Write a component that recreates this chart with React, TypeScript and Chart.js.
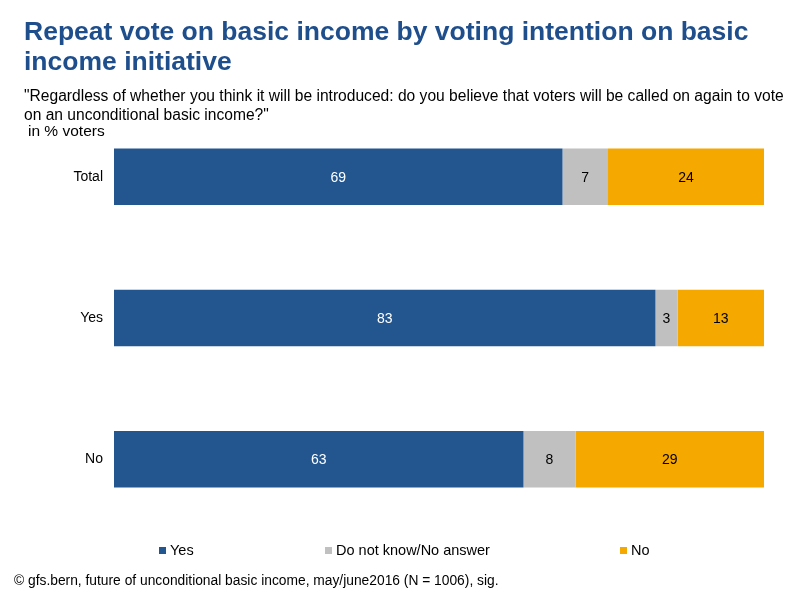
import { useEffect, useRef } from 'react';
import { Chart, registerables } from 'chart.js';

Chart.register(...registerables);

const categories = ['Total', 'Yes', 'No'];
// shares as drawn (segments fill the bar); labels show rounded values
const yesValues = [69, 83.3, 63];
const dontKnowValues = [7, 3.4, 8];
const noValues = [24, 13.3, 29];

const seriesNames = ['Yes', 'Do not know/No answer', 'No'];
const seriesColors = ['#23568F', '#C0C0C0', '#F5A800'];
const labelColors = ['#FFFFFF', '#000000', '#000000'];

const FONT = '"Liberation Sans", Arial, sans-serif';

// writes the value in the middle of every segment
const segmentLabels = {
  id: 'segmentLabels',
  afterDatasetsDraw(chart: Chart) {
    const { ctx } = chart;
    ctx.save();
    ctx.font = `14px ${FONT}`;
    ctx.textAlign = 'center';
    ctx.textBaseline = 'middle';
    chart.data.datasets.forEach((ds, i) => {
      const meta = chart.getDatasetMeta(i);
      meta.data.forEach((el, j) => {
        const { x, y, base } = el.getProps(['x', 'y', 'base'], true) as any;
        ctx.fillStyle = labelColors[i];
        ctx.fillText(String(Math.round(ds.data[j] as number)), (x + base) / 2, y + 1);
      });
    });
    ctx.restore();
  },
};

const legendPos = [159, 325, 620];

const App = () => {
  const canvasRef = useRef<HTMLCanvasElement | null>(null);
  const chartRef = useRef<Chart | null>(null);

  useEffect(() => {
    if (!canvasRef.current) return;
    chartRef.current?.destroy();

    const values = [yesValues, dontKnowValues, noValues];

    chartRef.current = new Chart(canvasRef.current, {
      type: 'bar',
      data: {
        labels: categories,
        datasets: values.map((data, i) => ({
          label: seriesNames[i],
          data,
          backgroundColor: seriesColors[i],
          borderWidth: 0,
          categoryPercentage: 1,
          barPercentage: 0.4,
        })),
      },
      options: {
        indexAxis: 'y',
        animation: false,
        responsive: false,
        layout: { padding: { top: 106, bottom: 70, left: 0, right: 36 } },
        plugins: {
          legend: { display: false },
          tooltip: { enabled: false },
        },
        scales: {
          x: { stacked: true, min: 0, max: 100, display: false },
          y: {
            stacked: true,
            grid: { display: false, drawTicks: false },
            border: { display: false },
            ticks: { color: '#000', padding: 11, font: { family: FONT, size: 14 } },
            afterFit: (scale) => {
              scale.width = 114;
            },
          },
        },
      },
      plugins: [segmentLabels],
    });

    return () => chartRef.current?.destroy();
  }, []);

  return (
    <div style={{ position: 'absolute', left: 0, top: 0, width: 800, height: 600, background: '#fff', fontFamily: FONT }}>
      <canvas ref={canvasRef} width={800} height={600} style={{ position: 'absolute', left: 0, top: 0 }} />
      <div style={{ position: 'absolute', left: 24, top: 16, color: '#1F4E8C', fontWeight: 'bold', fontSize: 26.5, lineHeight: '30px', whiteSpace: 'nowrap' }}>
        Repeat vote on basic income by voting intention on basic<br />income initiative
      </div>
      <div style={{ position: 'absolute', left: 24, top: 86, fontSize: 15.6, lineHeight: '19px', color: '#000', whiteSpace: 'nowrap' }}>
        "Regardless of whether you think it will be introduced: do you believe that voters will be called on again to vote<br />on an unconditional basic income?"
      </div>
      <div style={{ position: 'absolute', left: 28, top: 122, fontSize: 15.5, color: '#000', whiteSpace: 'nowrap' }}>in % voters</div>
      {seriesNames.map((name, i) => (
        <div key={name} style={{ position: 'absolute', left: legendPos[i], top: 542, fontSize: 14.5, color: '#000', whiteSpace: 'nowrap' }}>
          <span style={{ display: 'inline-block', width: 7, height: 7, background: seriesColors[i], marginRight: 4, verticalAlign: 1 }} />
          {name}
        </div>
      ))}
      <div style={{ position: 'absolute', left: 14, top: 573, fontSize: 13.8, color: '#000', whiteSpace: 'nowrap' }}>
        © gfs.bern, future of unconditional basic income, may/june2016 (N = 1006), sig.
      </div>
    </div>
  );
};

export default App;
